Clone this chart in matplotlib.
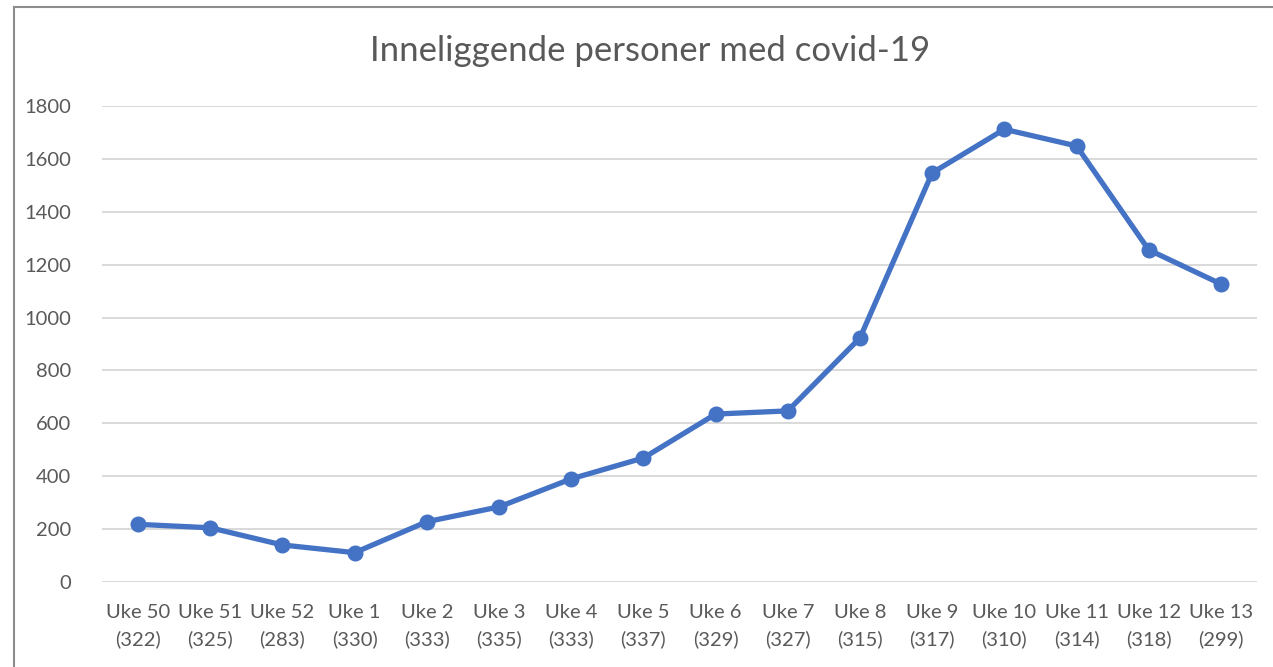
import matplotlib
matplotlib.use("Agg")
import matplotlib.pyplot as plt
from matplotlib.lines import Line2D

weeks = ["Uke 50", "Uke 51", "Uke 52", "Uke 1", "Uke 2", "Uke 3", "Uke 4", "Uke 5",
         "Uke 6", "Uke 7", "Uke 8", "Uke 9", "Uke 10", "Uke 11", "Uke 12", "Uke 13"]
counts = ["322", "325", "283", "330", "333", "335", "333", "337",
          "329", "327", "315", "317", "310", "314", "318", "299"]
values = [218, 205, 140, 111, 228, 284, 390, 469, 635, 647, 923, 1547, 1712, 1649, 1256, 1127]
yticks = [0, 200, 400, 600, 800, 1000, 1200, 1400, 1600, 1800]
title = "Inneliggende personer med covid-19"

plt.rcParams['font.family'] = ['Lato', 'DejaVu Sans']

W, H = 1273, 667
fig = plt.figure(figsize=(W / 100, H / 100), dpi=100)
ax = fig.add_axes([102 / W, 1 - 582 / H, (1257 - 102) / W, (582 - 106) / H])

x = list(range(len(values)))
ax.plot(x, values, color="#4472C4", lw=3.8, marker="o", ms=10.5,
        solid_capstyle="round", solid_joinstyle="round", zorder=3)

ax.set_xlim(-0.5, len(values) - 0.5)
ax.set_ylim(0, 1800)
ax.set_yticks(yticks)
ax.set_yticklabels([str(t) for t in yticks])
ax.set_xticks(x)
ax.set_xticklabels([f"{w}\n({c})" for w, c in zip(weeks, counts)], linespacing=1.6)
ax.grid(axis="y", color="#D9D9D9", lw=1.4, zorder=0)
ax.set_axisbelow(True)
for s in ax.spines.values():
    s.set_visible(False)
ax.tick_params(axis="both", length=0, labelsize=14.5, labelcolor="#595959")
ax.tick_params(axis="y", pad=22)
ax.tick_params(axis="x", pad=16)

fig.text(650 / W, 1 - 51 / H, title, ha="center", va="center",
         fontsize=25, color="#595959", fontweight="normal")

# outer chart frame (top and left visible)
fig.add_artist(Line2D([14 / W, 14 / W], [0, 1 - 7 / H], transform=fig.transFigure,
                      color="#8C8C8C", lw=1.5))
fig.add_artist(Line2D([14 / W, 1], [1 - 7 / H, 1 - 7 / H], transform=fig.transFigure,
                      color="#8C8C8C", lw=1.5))

fig.savefig("out.png", dpi=100)
